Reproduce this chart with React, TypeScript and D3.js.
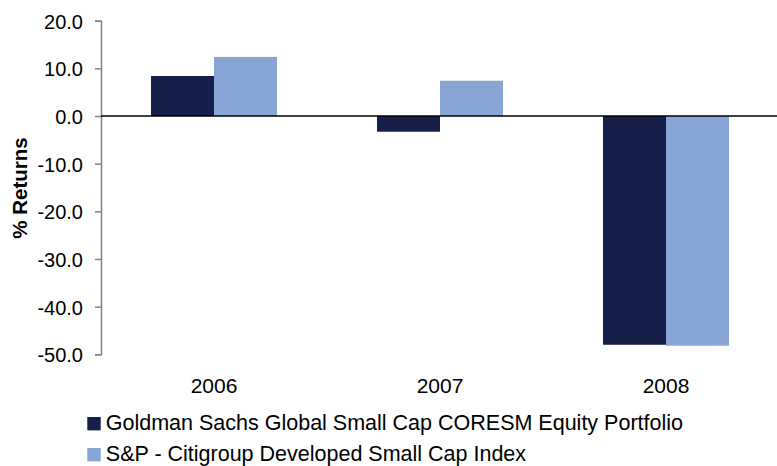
import React, { useEffect, useRef } from "react";
import * as d3 from "d3";

const years = ["2006", "2007", "2008"];
const portfolio = [8.4, -3.3, -48.0];
const benchmark = [12.4, 7.4, -48.2];
const seriesNames = [
  "Goldman Sachs Global Small Cap CORESM Equity Portfolio",
  "S&P - Citigroup Developed Small Cap Index",
];
const colors = ["#161f4a", "#87a6d5"];
const yTicks = [20, 10, 0, -10, -20, -30, -40, -50];

const App = () => {
  const svgRef = useRef<SVGSVGElement>(null);

  useEffect(() => {
    const width = 777;
    const height = 466;
    const left = 101;
    const top = 20.7;
    const bottom = 354.3;

    const svg = d3.select(svgRef.current);
    svg.selectAll("*").remove();
    svg.attr("width", width).attr("height", height);

    const font = "Liberation Sans, Arial, sans-serif";

    const y = d3.scaleLinear().domain([-50, 20]).range([bottom, top]);
    const x = d3
      .scaleBand()
      .domain(years)
      .range([left, left + 678])
      .paddingInner(0.4425)
      .paddingOuter(0.22125);
    const x1 = d3
      .scaleBand()
      .domain(["0", "1"])
      .range([0, x.bandwidth()]);

    const rows = years.map((yr, i) => ({ yr, vals: [portfolio[i], benchmark[i]] }));

    const g = svg
      .selectAll("g.cat")
      .data(rows)
      .enter()
      .append("g")
      .attr("transform", (d) => `translate(${x(d.yr)},0)`);

    g.selectAll("rect")
      .data((d) => d.vals)
      .enter()
      .append("rect")
      .attr("x", (_d, i) => x1(String(i))!)
      .attr("width", x1.bandwidth())
      .attr("y", (d) => y(Math.max(0, d)))
      .attr("height", (d) => Math.abs(y(d) - y(0)))
      .attr("fill", (_d, i) => colors[i]);

    // y axis
    const yAxis = svg
      .append("g")
      .attr("transform", `translate(${left},0)`)
      .call(
        d3
          .axisLeft(y)
          .tickValues(yTicks)
          .tickSize(6)
          .tickPadding(12)
          .tickFormat((d) => (d as number).toFixed(1))
      );
    yAxis.select(".domain").attr("stroke", "#808080").attr("stroke-width", 1.5);
    yAxis.selectAll(".tick line").attr("stroke", "#808080").attr("stroke-width", 1.5);
    yAxis
      .selectAll(".tick text")
      .attr("font-family", font)
      .attr("font-size", 20)
      .attr("dy", "0.38em")
      .attr("fill", "#000");

    // zero line
    svg
      .append("line")
      .attr("x1", left)
      .attr("x2", width)
      .attr("y1", y(0))
      .attr("y2", y(0))
      .attr("stroke", "#000")
      .attr("stroke-width", 1.5);

    // year labels
    svg
      .selectAll("text.year")
      .data(years)
      .enter()
      .append("text")
      .attr("x", (d) => x(d)! + x.bandwidth() / 2)
      .attr("y", 392.7)
      .attr("text-anchor", "middle")
      .attr("font-family", font)
      .attr("font-size", 21)
      .text((d) => d);

    // y label
    svg
      .append("text")
      .attr("transform", `translate(26.5,188) rotate(-90)`)
      .attr("text-anchor", "middle")
      .attr("font-family", font)
      .attr("font-size", 20.5)
      .attr("font-weight", "bold")
      .text("% Returns");

    // legend
    const leg = svg
      .selectAll("g.leg")
      .data(seriesNames)
      .enter()
      .append("g")
      .attr("transform", (_d, i) => `translate(87.3,${417 + i * 31})`);
    leg
      .append("rect")
      .attr("width", 13.4)
      .attr("height", 13.4)
      .attr("fill", (_d, i) => colors[i]);
    leg
      .append("text")
      .attr("x", 18.5)
      .attr("y", 13.4)
      .attr("font-family", font)
      .attr("font-size", 21.5)
      .text((d) => d);
  }, []);

  return <svg ref={svgRef} style={{ position: "absolute", left: 0, top: 0 }}></svg>;
};

export default App;
